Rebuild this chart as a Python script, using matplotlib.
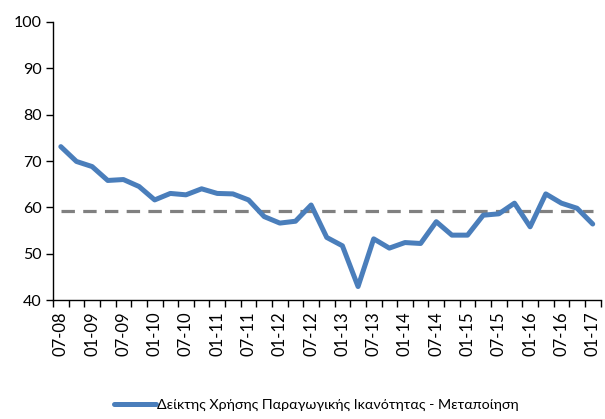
import matplotlib
matplotlib.use("Agg")
import matplotlib.pyplot as plt
import numpy as np

plt.rcParams['font.family'] = ['Lato', 'DejaVu Sans']

# Quarterly data, 07-08 .. 01-17
quarters = ["07-08", "10-08", "01-09", "04-09", "07-09", "10-09", "01-10", "04-10",
            "07-10", "10-10", "01-11", "04-11", "07-11", "10-11", "01-12", "04-12",
            "07-12", "10-12", "01-13", "04-13", "07-13", "10-13", "01-14", "04-14",
            "07-14", "10-14", "01-15", "04-15", "07-15", "10-15", "01-16", "04-16",
            "07-16", "10-16", "01-17"]
values = [73.1, 69.9, 68.8, 65.8, 66.0, 64.5, 61.6, 63.0,
          62.7, 64.0, 63.0, 62.9, 61.6, 58.0, 56.6, 57.0,
          60.5, 53.5, 51.7, 42.9, 53.2, 51.2, 52.4, 52.2,
          56.9, 54.0, 54.0, 58.3, 58.6, 60.9, 55.8, 62.9,
          60.9, 59.8, 56.4]
average_level = 59.3
series_label = "Δείκτης Χρήσης Παραγωγικής Ικανότητας - Μεταποίηση"

fig = plt.figure(figsize=(6.05, 4.19), dpi=100)
ax = fig.add_axes([0.0876, 0.284, 0.905, 0.6635])

x = np.arange(len(quarters))
ax.plot(x, [average_level] * len(x), color="#808080", lw=2.3, dashes=(4.2, 2.6),
        solid_capstyle="butt", zorder=2)
line, = ax.plot(x, values, color="#4A7EBB", lw=3.6, solid_joinstyle="round",
                solid_capstyle="round", zorder=3, label=series_label)

ax.set_xlim(-0.5, len(quarters) - 0.5)
ax.set_ylim(40, 100)
ax.set_yticks(range(40, 101, 10))

ax.set_xticks(x[::2])
ax.set_xticklabels(quarters[::2], rotation=90)
ax.set_xticks(np.arange(-0.5, len(quarters), 1), minor=True)
ax.tick_params(axis="x", which="major", length=0, pad=8.5, labelsize=12, colors="#000000")
ax.tick_params(axis="x", which="minor", length=5, width=1, direction="out")
ax.tick_params(axis="y", length=5, width=1, direction="out", labelsize=11.5, pad=3)

for s in ["top", "right"]:
    ax.spines[s].set_visible(False)
for s in ["left", "bottom"]:
    ax.spines[s].set_linewidth(1)
    ax.spines[s].set_color("#000000")

fig.legend(handles=[line], loc="center", bbox_to_anchor=(0.523, 0.033), frameon=False,
           fontsize=10.3, handlelength=2.9, handletextpad=0.1)

fig.savefig("out.png", dpi=100)
